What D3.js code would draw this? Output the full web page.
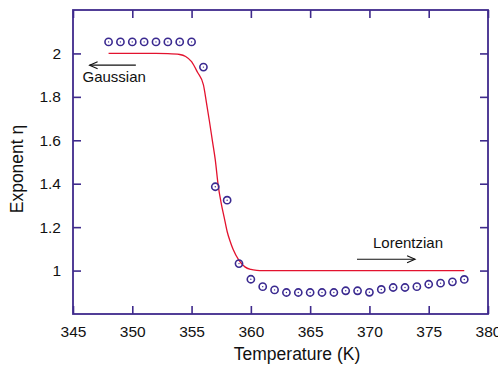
<!DOCTYPE html>
<html>
<head>
<meta charset="utf-8">
<script src="https://cdn.jsdelivr.net/npm/d3@7"></script>
<style>
  body { margin: 0; background: #fff; }
  svg { display: block; font-family: "Liberation Sans", Arial, sans-serif; }
</style>
</head>
<body>
<svg id="chart" width="498" height="367"></svg>
<script>
// measured exponent (open circles)
const tempPts = [348, 349, 350, 351, 352, 353, 354, 355, 356, 357, 358, 359, 360, 361, 362, 363, 364, 365,
  366, 367, 368, 369, 370, 371, 372, 373, 374, 375, 376, 377, 378];
const etaPts = [2.053, 2.053, 2.053, 2.053, 2.053, 2.053, 2.053, 2.053, 1.937, 1.386, 1.324, 1.032, 0.960,
  0.926, 0.911, 0.899, 0.899, 0.899, 0.899, 0.899, 0.907, 0.907, 0.900, 0.913, 0.922, 0.922, 0.926,
  0.937, 0.942, 0.948, 0.959];

// fitted curve (red)
const tempFit = [348, 350, 352, 353, 354, 354.5, 355, 355.5, 356, 356.25, 356.5, 356.75, 357, 357.25, 357.5,
  357.75, 358, 358.25, 358.5, 359, 359.5, 360, 360.5, 361, 365, 370, 375, 378];
const etaFit = [2.0, 2.0, 2.0, 1.999, 1.995, 1.986, 1.962, 1.913, 1.855, 1.775, 1.69, 1.6, 1.51, 1.39, 1.31,
  1.245, 1.18, 1.135, 1.098, 1.047, 1.017, 1.005, 1.001, 1.0, 1.0, 1.0, 1.0, 1.0];

const xTicks = [345, 350, 355, 360, 365, 370, 375, 380];
const yTicks = [1, 1.2, 1.4, 1.6, 1.8, 2];

const notes = [
  { label: "Gaussian", x: 345.8, y: 1.868, ax1: 350.3, ax2: 346.4, ay: 1.946 },
  { label: "Lorentzian", x: 370.3, y: 1.106, ax1: 368.95, ax2: 373.85, ay: 1.052 }
];

const svg = d3.select("#chart");
const m = { left: 73, right: 488, top: 10, bottom: 314 };
const axisColor = "#3f2a8c";

const x = d3.scaleLinear().domain([345, 380]).range([m.left, m.right]);
const y = d3.scaleLinear().domain([0.8, 2.2]).range([m.bottom, m.top]);

const tick = 8;
const axisFmt = d => d3.format("")(d);

// bottom axis (labels) + top ticks
const gB = svg.append("g").attr("transform", `translate(0,${m.bottom})`)
  .call(d3.axisBottom(x).tickValues(xTicks).tickSize(-tick).tickPadding(12).tickFormat(axisFmt));
const gT = svg.append("g").attr("transform", `translate(0,${m.top})`)
  .call(d3.axisTop(x).tickValues(xTicks).tickSize(-tick).tickFormat(""));
const gL = svg.append("g").attr("transform", `translate(${m.left},0)`)
  .call(d3.axisLeft(y).tickValues(yTicks).tickSize(-tick).tickPadding(12).tickFormat(axisFmt));
const gR = svg.append("g").attr("transform", `translate(${m.right},0)`)
  .call(d3.axisRight(y).tickValues(yTicks).tickSize(-tick).tickFormat(""));

[gB, gT, gL, gR].forEach(g => {
  g.select(".domain").remove();
  g.selectAll("line").attr("stroke", axisColor).attr("stroke-width", 1.6);
  g.selectAll("text").attr("fill", "#111").attr("font-size", 15.5)
    .attr("font-family", "'Liberation Sans', Arial, sans-serif");
});

svg.append("rect")
  .attr("x", m.left).attr("y", m.top)
  .attr("width", m.right - m.left).attr("height", m.bottom - m.top)
  .attr("fill", "none").attr("stroke", axisColor).attr("stroke-width", 1.8);

// fitted curve
const fit = tempFit.map((t, i) => [t, etaFit[i]]);
const line = d3.line().x(d => x(d[0])).y(d => y(d[1])).curve(d3.curveMonotoneX);
svg.append("path").datum(fit)
  .attr("d", line).attr("fill", "none")
  .attr("stroke", "#e3122e").attr("stroke-width", 1.3);

// data points
const pts = tempPts.map((t, i) => [t, etaPts[i]]);
const pg = svg.append("g").selectAll("g").data(pts).join("g")
  .attr("transform", d => `translate(${x(d[0])},${y(d[1])})`);
pg.append("circle").attr("r", 3.6).attr("fill", "none")
  .attr("stroke", "#3b2a90").attr("stroke-width", 1.6);
pg.append("circle").attr("r", 0.7).attr("fill", "#3b2a90");

// annotations
const ng = svg.append("g");
notes.forEach(n => {
  ng.append("text").attr("x", x(n.x)).attr("y", y(n.y))
    .attr("font-size", 15).attr("fill", "#111").text(n.label);
  const x1 = x(n.ax1), x2 = x(n.ax2), yy = y(n.ay);
  const dir = Math.sign(x2 - x1);
  ng.append("line").attr("x1", x1).attr("x2", x2).attr("y1", yy).attr("y2", yy)
    .attr("stroke", "#111").attr("stroke-width", 1.1);
  ng.append("path")
    .attr("d", `M${x2 - dir * 8},${yy - 3.5}L${x2},${yy}L${x2 - dir * 8},${yy + 3.5}`)
    .attr("fill", "none").attr("stroke", "#111").attr("stroke-width", 1.1);
});

// axis titles
svg.append("text").attr("x", 297).attr("y", 360)
  .attr("text-anchor", "middle").attr("font-size", 17.5).attr("fill", "#111")
  .text("Temperature (K)");
svg.append("text")
  .attr("transform", "translate(23,169) rotate(-90)")
  .attr("text-anchor", "middle").attr("font-size", 17.5).attr("fill", "#111")
  .text("Exponent η");
</script>
</body>
</html>
